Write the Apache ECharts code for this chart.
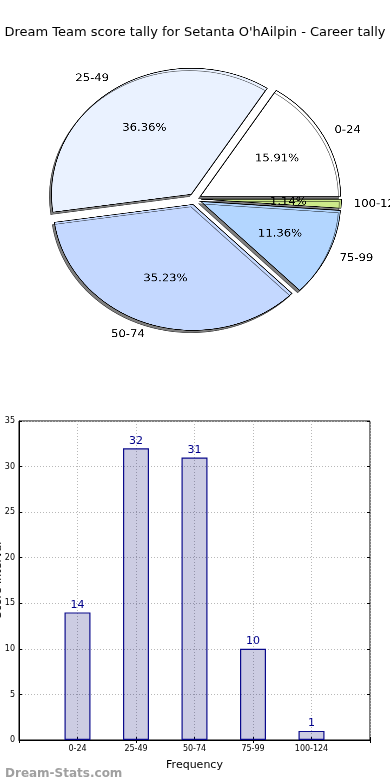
<!DOCTYPE html>
<html><head><meta charset="utf-8">
<script src="https://cdn.jsdelivr.net/npm/echarts@6/dist/echarts.min.js"></script>
<style>
html,body{margin:0;padding:0;background:#fff}
#wrap{position:relative;width:390px;height:780px;overflow:hidden}
#c{position:absolute;left:0;top:0;width:390px;height:780px}
#p{position:absolute;left:0;top:0;width:390px;height:400px;transform-origin:196px 199px;transform:scale(1.053,0.947)}
</style>
</head><body><div id="wrap"><div id="c"></div><div id="p"></div></div>
<script>
const titleText = "Dream Team score tally for Setanta O'hAilpin - Career tally";
const categories = ['0-24', '25-49', '50-74', '75-99', '100-124'];
const counts = [14, 32, 31, 10, 1];
const sliceColors = ['#ffffff', '#eaf2ff', '#c4d8ff', '#b3d6ff', '#cdea8a'];
const yTicks = {min: 0, max: 35, interval: 5};
const xAxisName = 'Frequency';
const yAxisName = 'Score Interval';
const watermark = 'Dream-Stats.com';

const FONT = 'DejaVu Sans';
const R = 133;
const pieData = categories.map((c, i) => ({name: c, value: counts[i], selected: true, itemStyle: {color: sliceColors[i]}}));
const pieDataLbl = categories.map((c, i) => ({name: c, value: counts[i], selected: true}));
const barCats = [''].concat(categories, ['']);
const barVals = ['-'].concat(counts, ['-']);

const tickOnly = {
  axisLine: {show: false}, axisLabel: {show: false}, splitLine: {show: false},
  axisTick: {show: true, inside: true, length: 3, lineStyle: {color: '#000'}}
};

const chart = echarts.init(document.getElementById('c'), null, {renderer: 'canvas'});
chart.setOption({
  animation: false,
  backgroundColor: 'transparent',
  textStyle: {fontFamily: FONT},
  title: [
    {text: titleText, left: 'center', top: 21, textStyle: {fontFamily: FONT, fontSize: 13, fontWeight: 'normal', color: '#000'}},
    {text: watermark, left: 0, top: 763, textStyle: {fontFamily: FONT, fontSize: 12, fontWeight: 'bold', color: '#a0a0a0'}}
  ],
  graphic: [{
    type: 'text', x: 4, y: 580, rotation: Math.PI / 2, silent: true,
    style: {text: yAxisName, fontFamily: FONT, fontSize: 11, fill: '#000', align: 'center', verticalAlign: 'bottom'}
  }],
  grid: {left: 19, top: 421, right: 20, bottom: 40, containLabel: false, outerBoundsMode: 'none', show: true, borderColor: '#000', borderWidth: 1, backgroundColor: 'transparent'},
  xAxis: [{
    type: 'category', data: barCats, boundaryGap: false,
    name: xAxisName, nameLocation: 'middle', nameGap: 20,
    nameTextStyle: {fontFamily: FONT, fontSize: 11, color: '#000'},
    axisLine: {lineStyle: {color: '#000'}},
    axisTick: {show: true, inside: true, length: 3, lineStyle: {color: '#000'}},
    axisLabel: {fontSize: 8, color: '#000', interval: 0, margin: 5},
    splitLine: {show: true, lineStyle: {color: '#b8b8b8', type: [1, 2]}}
  }, Object.assign({type: 'category', data: barCats, boundaryGap: false, position: 'top'}, tickOnly)],
  yAxis: [{
    type: 'value', min: yTicks.min, max: yTicks.max, interval: yTicks.interval,
    axisLine: {show: true, lineStyle: {color: '#000'}},
    axisTick: {show: true, inside: true, length: 3, lineStyle: {color: '#000'}},
    axisLabel: {fontSize: 8, color: '#000', margin: 4},
    splitLine: {show: true, lineStyle: {color: '#b8b8b8', type: [1, 2]}}
  }, Object.assign({type: 'value', min: yTicks.min, max: yTicks.max, interval: yTicks.interval, position: 'right'}, tickOnly)],
  series: [
    {
      type: 'bar', data: barVals, barWidth: 26, xAxisIndex: 0, yAxisIndex: 0,
      itemStyle: {color: 'rgba(0,0,110,0.2)', borderColor: '#0a0a8c', borderWidth: 1.2},
      label: {show: true, position: 'top', distance: 2, color: '#00008b', fontFamily: FONT, fontSize: 11},
      emphasis: {disabled: true}
    }
  ]
});

const pie = echarts.init(document.getElementById('p'), null, {renderer: 'canvas', devicePixelRatio: 3});
pie.setOption({
  animation: false,
  backgroundColor: 'transparent',
  textStyle: {fontFamily: FONT},
  series: [
    {
      type: 'pie', center: [195, 199], radius: [0, R],
      startAngle: 0, clockwise: false,
      selectedMode: 'multiple', selectedOffset: 6,
      avoidLabelOverlap: false, silent: true,
      data: pieData,
      itemStyle: {borderColor: '#000', borderWidth: 0.8, shadowColor: 'rgba(0,0,0,0.5)', shadowBlur: 0, shadowOffsetX: -2, shadowOffsetY: 2.5},
      label: {show: true, position: 'outside', formatter: '{b}', fontFamily: FONT, fontSize: 11, color: '#000', overflow: 'none', distanceToLabelLine: 0},
      labelLine: {show: false, length: 12, length2: 0},
      emphasis: {disabled: true}
    },
    {
      type: 'pie', center: [195, 199], radius: [0, R * 1.2],
      startAngle: 0, clockwise: false,
      selectedMode: 'multiple', selectedOffset: 6,
      avoidLabelOverlap: false, silent: true,
      data: pieDataLbl,
      itemStyle: {color: 'rgba(0,0,0,0)', borderWidth: 0},
      label: {show: true, position: 'inner', formatter: '{d}%', fontFamily: FONT, fontSize: 11, color: '#000'},
      labelLine: {show: false},
      emphasis: {disabled: true}
    }
  ]
});
</script></body></html>
